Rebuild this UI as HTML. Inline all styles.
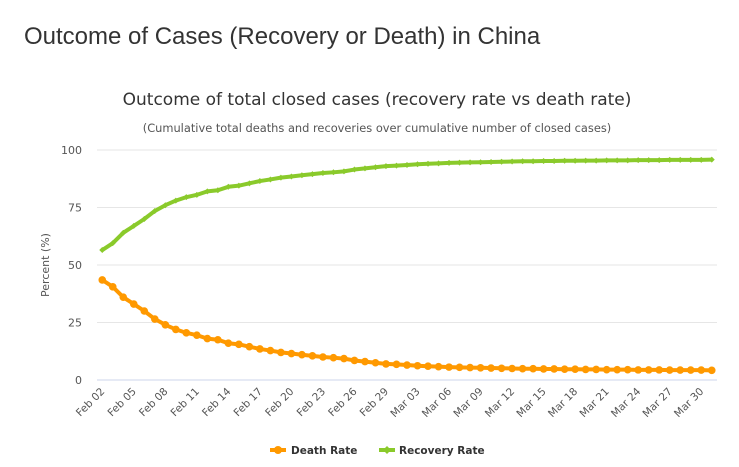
<!DOCTYPE html>
<html><head><meta charset="utf-8"><style>
body{margin:0;background:#fff;width:739px;height:467px;overflow:hidden;font-family:"Liberation Sans",sans-serif}
h1{position:absolute;left:24px;top:23px;margin:0;font-size:24px;font-weight:normal;color:#333}
svg text{font-family:"DejaVu Sans",sans-serif}
</style></head><body>
<h1>Outcome of Cases (Recovery or Death) in China</h1>
<svg id="c" width="739" height="467" style="position:absolute;left:0;top:0">
<text x="377" y="105" text-anchor="middle" font-size="17" fill="#333">Outcome of total closed cases (recovery rate vs death rate)</text>
<text x="377" y="132" text-anchor="middle" font-size="11.4" fill="#555">(Cumulative total deaths and recoveries over cumulative number of closed cases)</text>
<text transform="translate(49,265) rotate(-90)" text-anchor="middle" font-size="11" fill="#555">Percent (%)</text>
<g id="grid"></g><g id="xl"></g><g id="series"></g>
<g>
<g><line x1="270" y1="450" x2="286" y2="450" stroke="#FF9900" stroke-width="4"/><circle cx="278" cy="450" r="4" fill="#FF9900"/><text x="291" y="454" font-size="10.5" font-weight="bold" fill="#333">Death Rate</text></g>
<g><line x1="379" y1="450" x2="395" y2="450" stroke="#8ACA2B" stroke-width="4"/><path d="M387 446 L391 450 L387 454 L383 450Z" fill="#8ACA2B"/><text x="399" y="454" font-size="10.5" font-weight="bold" fill="#333">Recovery Rate</text></g>
</g>
</svg>
<script>
const death=[43.5,40.5,36,33,30,26.5,24,22,20.5,19.5,18,17.5,16,15.5,14.5,13.5,12.8,12,11.5,11,10.5,10,9.7,9.3,8.5,8,7.5,7,6.8,6.5,6.2,6,5.8,5.6,5.5,5.4,5.3,5.2,5.1,5.0,4.9,4.9,4.8,4.8,4.7,4.7,4.6,4.6,4.5,4.5,4.5,4.4,4.4,4.4,4.3,4.3,4.3,4.3,4.2];
const recovery=[56.5,59.5,64,67,70,73.5,76,78,79.5,80.5,82,82.5,84,84.5,85.5,86.5,87.2,88,88.5,89,89.5,90,90.3,90.7,91.5,92,92.5,93,93.2,93.5,93.8,94,94.2,94.4,94.5,94.6,94.7,94.8,94.9,95,95.1,95.1,95.2,95.2,95.3,95.3,95.4,95.4,95.5,95.5,95.5,95.6,95.6,95.6,95.7,95.7,95.7,95.7,95.8];
const yTicks=[0,25,50,75,100];
const categories=[];
(function(){const d=new Date(2020,1,2);const m=["Jan","Feb","Mar","Apr"];for(let i=0;i<death.length;i++){const t=new Date(d.getTime()+i*864e5);categories.push(m[t.getMonth()]+" "+String(t.getDate()).padStart(2,"0"));}})();
const L=97,R=717,T=150,B=380,NS="http://www.w3.org/2000/svg";
const w=(R-L)/categories.length;
const x=i=>L+(i+0.5)*w, y=v=>B-(v/100)*(B-T);
function el(t,a,p){const e=document.createElementNS(NS,t);for(const k in a)e.setAttribute(k,a[k]);p.appendChild(e);return e;}
const grid=document.getElementById('grid');
yTicks.forEach(v=>{
 const l=el('line',{x1:L,x2:R,y1:y(v),y2:y(v),stroke:v===0?'#ccd6eb':'#e6e6e6','stroke-width':1},grid);
 
 
 const t=el('text',{x:82,y:y(v)+4,'text-anchor':'end','font-size':11,fill:'#555'},grid);t.textContent=v;
 
 
});
const xl=document.getElementById('xl');
categories.forEach((c,i)=>{if(i%3)return;
 const t=el('text',{transform:`translate(${x(i)+3},${B+12}) rotate(-45)`,'text-anchor':'end','font-size':10.5,fill:'#555'},xl);t.textContent=c;
 
 
});
const sg=document.getElementById('series');
function series(data,color,name,circle){
 const g=el('g',{},sg);
 
 
 el('polyline',{points:data.map((v,i)=>x(i)+','+y(v)).join(' '),fill:'none',stroke:color,'stroke-width':4,'stroke-linejoin':'round'},g);
 data.forEach((v,i)=>{
  const m=circle?el('circle',{cx:x(i),cy:y(v),r:3.8,fill:color},g):el('path',{d:`M${x(i)} ${y(v)-3}L${x(i)+3} ${y(v)}L${x(i)} ${y(v)+3}L${x(i)-3} ${y(v)}Z`,fill:color},g);
  
  
 });
}
series(recovery,'#8ACA2B','recovery-rate-series',false);
series(death,'#FF9900','death-rate-series',true);
</script>
</body></html>
